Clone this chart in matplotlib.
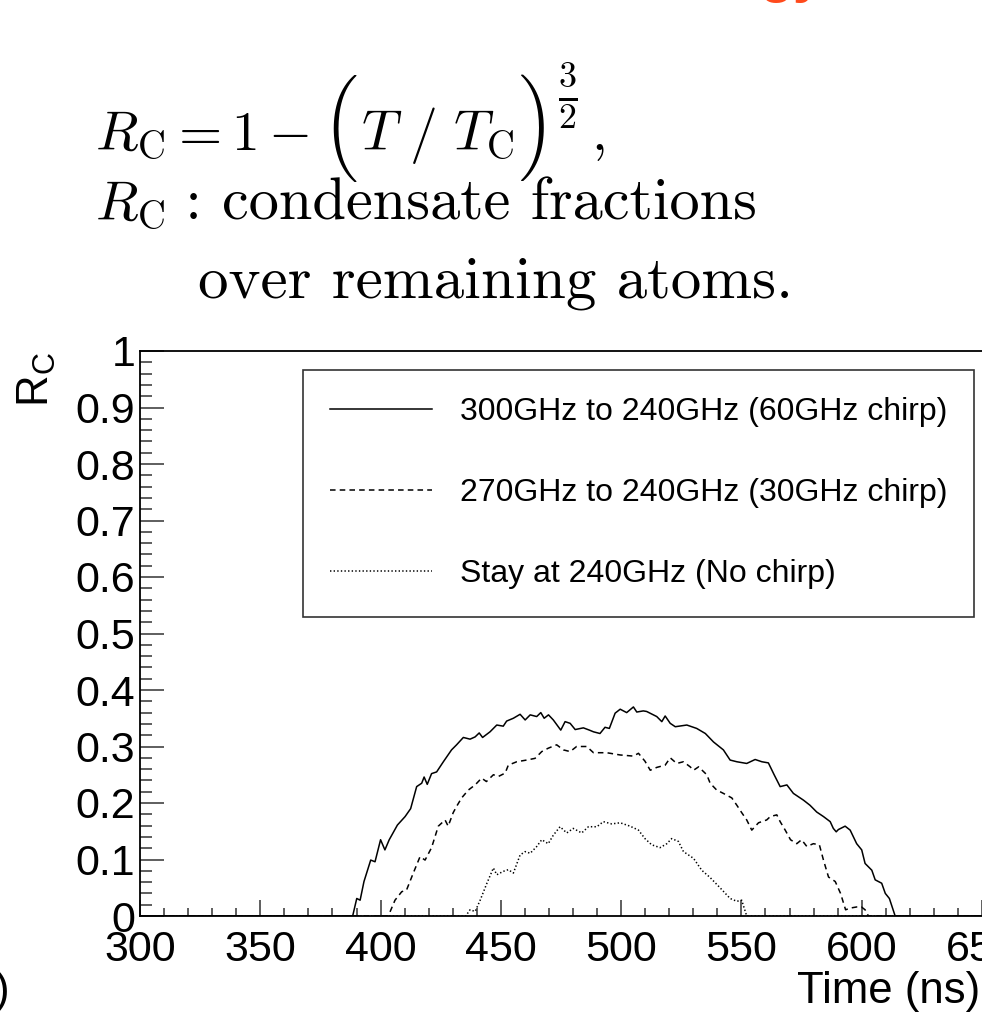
import matplotlib
matplotlib.use("Agg")
import matplotlib.pyplot as plt
from matplotlib.ticker import MultipleLocator, FuncFormatter

# ---------------- data ----------------
t_60 = [300, 388.4, 390.1, 391.5, 393.1, 395.9, 397.7, 400.0, 401.8, 403.6, 407.0,
        410.2, 412.5, 415.0, 417.1, 418.1, 419.4, 421.2, 423.3, 426.1, 429.5, 431.6,
        434.4, 437.2, 439.3, 441.0, 442.4, 445.5, 448.3, 451.0, 452.4, 455.2, 458.0,
        460.1, 462.2, 464.9, 466.6, 468.0, 469.8, 471.8, 474.9, 476.7, 478.8, 480.9,
        484.3, 486.8, 488.5, 491.2, 493.3, 495.1, 497.5, 499.6, 502.3, 505.1, 506.5,
        509.2, 510.6, 513.4, 514.8, 516.9, 518.3, 520.4, 522.5, 527.3, 531.4, 535.0,
        538.4, 542.5, 545.3, 548.1, 552.2, 555.7, 558.5, 561.2, 563.6, 566.1, 568.9,
        571.6, 575.8, 578.5, 581.3, 584.1, 586.9, 588.2, 589.4, 590.3, 593.1, 595.2,
        597.9, 600.0, 601.4, 604.2, 605.6, 608.3, 609.8, 611.5, 613.9, 650]
r_60 = [0, 0, .031, .028, .061, .099, .096, .135, .117, .135, .161,
        .176, .190, .229, .235, .246, .233, .252, .255, .273, .294, .303,
        .316, .313, .317, .324, .316, .326, .338, .336, .345, .350, .357,
        .347, .356, .353, .360, .350, .356, .347, .329, .344, .341, .330,
        .333, .329, .326, .323, .334, .332, .359, .366, .360, .370, .361,
        .363, .362, .356, .353, .344, .354, .341, .335, .338, .332, .323,
        .308, .294, .276, .273, .270, .277, .273, .271, .250, .229, .232,
        .217, .205, .196, .184, .176, .167, .155, .149, .153, .159, .152,
        .128, .117, .093, .081, .064, .058, .040, .031, 0, 0]

t_30 = [300, 403.2, 406.0, 408.8, 410.8, 413.6, 416.4, 418.5, 421.2, 424.0, 426.8,
        428.1, 430.2, 431.6, 433.7, 436.5, 439.3, 442.0, 444.0, 446.9, 449.0, 451.8,
        453.1, 456.6, 460.7, 464.2, 467.0, 469.7, 473.2, 476.0, 478.8, 481.5, 485.7,
        488.5, 494.0, 499.6, 505.1, 507.2, 509.9, 512.1, 514.8, 518.3, 520.4, 523.1,
        525.9, 528.7, 530.1, 532.2, 535.6, 537.0, 539.7, 542.5, 546.0, 548.1, 550.1,
        552.2, 554.3, 557.1, 560.5, 562.0, 564.7, 566.1, 568.2, 570.4, 573.0, 575.0,
        577.2, 579.9, 582.4, 584.1, 586.2, 589.0, 591.2, 593.3, 595.2, 597.9, 599.9,
        601.4, 602.8, 650]
r_30 = [0, 0, .028, .043, .046, .076, .105, .099, .121, .159, .170,
        .159, .183, .194, .209, .223, .232, .244, .238, .250, .247, .253,
        .267, .273, .276, .279, .291, .297, .303, .294, .291, .300, .300,
        .289, .289, .285, .283, .288, .274, .258, .263, .267, .280, .270,
        .273, .264, .258, .264, .250, .235, .223, .217, .209, .196, .183,
        .170, .152, .165, .170, .176, .179, .167, .152, .135, .128, .135,
        .123, .128, .126, .099, .069, .061, .040, .011, .014, .016, .016,
        .011, 0, 0]

t_0 = [300, 435.4, 437.2, 439.3, 441.4, 444.2, 446.9, 448.3, 451.0, 453.1, 455.2,
       458.0, 460.1, 462.2, 464.9, 467.0, 469.7, 471.8, 474.6, 477.4, 480.1, 483.6,
       486.4, 489.9, 492.6, 496.1, 499.6, 503.7, 507.2, 509.9, 512.7, 516.2, 519.0,
       521.0, 523.8, 525.9, 530.1, 533.5, 537.0, 541.1, 545.3, 548.1, 550.1, 552.2, 650]
r_0 = [0, 0, .011, .008, .028, .058, .085, .073, .079, .082, .076,
       .108, .114, .111, .123, .135, .128, .143, .158, .147, .155, .147,
       .158, .158, .167, .163, .165, .159, .152, .137, .126, .121, .128,
       .137, .132, .114, .102, .081, .068, .050, .031, .026, .028, 0, 0]

labels = ["300GHz to 240GHz (60GHz chirp)",
          "270GHz to 240GHz (30GHz chirp)",
          "Stay at 240GHz (No chirp)"]

x_ticks = [300, 350, 400, 450, 500, 550, 600, 650]
y_ticks = [0, 0.1, 0.2, 0.3, 0.4, 0.5, 0.6, 0.7, 0.8, 0.9, 1.0]

# ---------------- style ----------------
plt.rcParams['font.family'] = ['Liberation Sans', 'DejaVu Sans']
plt.rcParams['mathtext.fontset'] = 'custom'
plt.rcParams['mathtext.rm'] = 'Liberation Sans'
plt.rcParams['mathtext.it'] = 'Liberation Sans:italic'
plt.rcParams['mathtext.sf'] = 'Liberation Sans'
plt.rcParams['lines.scale_dashes'] = False

W, H = 982, 1018
fig = plt.figure(figsize=(W / 100, H / 100), dpi=100)
ax = fig.add_axes([140 / W, 1 - 916 / H, 842 / W, 565 / H])

lw = 1.1
l1, = ax.plot(t_60, r_60, color='black', lw=lw, ls='-')
l2, = ax.plot(t_30, r_30, color='black', lw=lw, ls=(0, (4, 3)))
l3, = ax.plot(t_0, r_0, color='black', lw=lw, ls=(0, (1, 1.6)))

ax.set_xlim(300, 650)
ax.set_ylim(0, 1)
ax.set_xticks(x_ticks)
ax.set_yticks(y_ticks)
ax.xaxis.set_minor_locator(MultipleLocator(10))
ax.yaxis.set_minor_locator(MultipleLocator(0.02))
ax.yaxis.set_major_formatter(FuncFormatter(lambda v, p: f"{v:g}"))

ax.tick_params(axis='both', which='both', direction='in', width=1.1,
               color='#333333', labelsize=31, top=False, right=False)
ax.tick_params(axis='y', which='major', length=17.3, pad=3.5)
ax.tick_params(axis='y', which='minor', length=8.6)
ax.tick_params(axis='x', which='major', length=11.5, pad=10)
ax.tick_params(axis='x', which='minor', length=5.8)

for s in ['left', 'bottom', 'top']:
    ax.spines[s].set_linewidth(1.3)
    ax.spines[s].set_color('black')
ax.spines['right'].set_visible(False)

ax.set_xlabel('Time (ns)', fontsize=31.5, loc='right')
ax.xaxis.set_label_coords((980 - 140) / 842, (916 - 971) / 565)
ax.set_ylabel(r'R$_{\mathrm{C}}$', fontsize=31.5, loc='top')
ax.yaxis.set_label_coords((58 - 140) / 842, (916 - 352) / 565)

leg = ax.legend([l1, l2, l3], labels, loc='upper left',
                bbox_to_anchor=(303 / W, 1 - 370 / H), bbox_transform=fig.transFigure,
                borderaxespad=0, fontsize=23, frameon=True, fancybox=False,
                framealpha=1, edgecolor='#333333', borderpad=0.85,
                labelspacing=1.6, handlelength=3.2, handletextpad=0.85)
leg.get_frame().set_linewidth(1.2)

# ---------------- formula text above the plot ----------------
fs_m = 40      # math part of the formula
fs_t = 43.5    # running text
renderer = fig.canvas.get_renderer()


def px(x, y):
    return x / W, 1 - y / H


def place(x_left, y_base, s, **kw):
    t = fig.text(*px(x_left, y_base), s, ha='left', va='baseline', **kw)
    return t, t.get_window_extent(renderer)


# line 1 built from pieces so the parentheses can be tall
tA, bA = place(95, 150, r'$R_{\mathrm{C}} = 1 - $', fontsize=fs_m, math_fontfamily='cm')
tP1, bP1 = place(bA.x1 + 13, 77, '\xb3', fontsize=43, family='cmex10')
tB, bB = place(bP1.x1 + 3, 150, r'$T\ /\ T_{\mathrm{C}}$', fontsize=fs_m, math_fontfamily='cm')
tP2, bP2 = place(bB.x1 + 5, 77, '\xb4', fontsize=43, family='cmex10')
tF = fig.text(*px(bP2.x1 + 3, 96), r'$\frac{3}{2}$', fontsize=37, math_fontfamily='cm',
              ha='left', va='center')
bF = tF.get_window_extent(renderer)
place(bF.x1 + 13, 150, r'$,$', fontsize=fs_m, math_fontfamily='cm')

# line 2
tR, bR = place(95, 220, r'$R_{\mathrm{C}}$', fontsize=fs_m, math_fontfamily='cm')
place(bR.x1, 220, ' : condensate fractions', fontsize=fs_t, family='cmr10')
# line 3
place(198, 297, 'over remaining atoms.', fontsize=43.9, family='cmr10')

# cut-off fragments at the borders
fig.text(*px(760, -9), 'gy', color='#FF4A1C', fontsize=40, fontweight='bold',
         ha='left', va='baseline')
fig.text(*px(9, 1003), ')', fontsize=31.5, ha='right', va='baseline')

fig.savefig('out.png', dpi=100)
